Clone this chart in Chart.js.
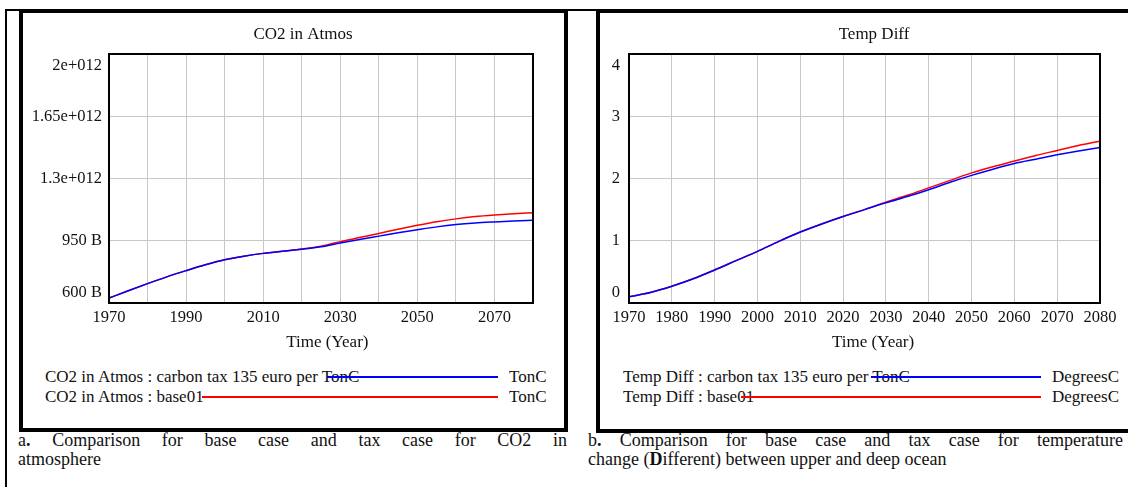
<!DOCTYPE html>
<html><head><meta charset="utf-8">
<script src="https://cdn.jsdelivr.net/npm/chart.js@4.4.1/dist/chart.umd.min.js"></script>
<style>
html,body{margin:0;padding:0;background:#fff;}
body{width:1128px;height:487px;overflow:hidden;position:relative;font-family:"Liberation Serif","Times New Roman",serif;color:#111;}
.ln{position:absolute;background:#000;}
.frame{position:absolute;border:4px solid #000;box-sizing:border-box;}
canvas{position:absolute;}
.lg{position:absolute;font-size:17px;line-height:20px;white-space:nowrap;}
.sw{position:absolute;height:2px;}
.cap{position:absolute;font-size:18px;line-height:18.5px;}
.cap div{height:18.5px;}
.cap .j{text-align:justify;text-align-last:justify;}
</style>
</head><body>
<div class="ln" style="left:5px;top:9px;width:1123px;height:2px"></div>
<div class="ln" style="left:5px;top:9px;width:2px;height:478px"></div>
<div class="frame" style="left:19px;top:9px;width:549px;height:423px"></div>
<div class="frame" style="left:596px;top:9px;width:544px;height:424px"></div>
<canvas id="c1" width="560" height="340" style="left:23px;top:13px"></canvas>
<canvas id="c2" width="548" height="340" style="left:600px;top:13px"></canvas>

<div class="lg" id="l1t" style="left:45px;top:367px"></div>
<div class="sw" id="l1s" style="left:327px;top:376px;width:171px"></div>
<div class="lg" id="l1u" style="left:509px;top:367px"></div>
<div class="lg" id="l2t" style="left:45px;top:387px"></div>
<div class="sw" id="l2s" style="left:202px;top:396px;width:296px"></div>
<div class="lg" id="l2u" style="left:509px;top:387px"></div>

<div class="lg" id="r1t" style="left:623px;top:367px"></div>
<div class="sw" id="r1s" style="left:871px;top:376px;width:170px"></div>
<div class="lg" id="r1u" style="left:1052px;top:367px"></div>
<div class="lg" id="r2t" style="left:623px;top:387px"></div>
<div class="sw" id="r2s" style="left:741px;top:396px;width:300px"></div>
<div class="lg" id="r2u" style="left:1052px;top:387px"></div>

<div class="cap" style="left:18px;top:431px;width:549px">
  <div class="j">a<b>.</b> Comparison for base case and tax case for CO2 in</div>
  <div>atmosphere</div>
</div>
<div class="cap" style="left:588px;top:431px;width:535px">
  <div class="j">b<b>.</b> Comparison for base case and tax case for temperature</div>
  <div>change (<b>D</b>ifferent) between upper and deep ocean</div>
</div>

<script>
// ---- data ----
const years = [1970,1975,1980,1985,1990,1995,2000,2005,2010,2015,2020,2025,2030,2035,2040,2045,2050,2055,2060,2065,2070,2075,2080];
// CO2 in Atmos (billion TonC)
const co2Tax  = [628,669,709,747,782,815,843,863,879,891,902,916,937,957,976,995,1012,1028,1041,1050,1056,1061,1065];
const co2Base = [628,669,709,747,782,815,843,863,879,891,903,919,945,968,991,1015,1037,1057,1073,1086,1095,1102,1108];
// Temp Diff (DegreesC)
const tempTax  = [0.10,0.17,0.27,0.39,0.53,0.68,0.83,0.99,1.14,1.27,1.39,1.50,1.61,1.71,1.82,1.94,2.05,2.15,2.24,2.31,2.38,2.44,2.50];
const tempBase = [0.10,0.17,0.27,0.39,0.53,0.68,0.83,0.99,1.14,1.27,1.39,1.50,1.62,1.73,1.85,1.97,2.09,2.19,2.28,2.37,2.45,2.53,2.60];
// tick labels
const co2YTicks  = ['600 B','950 B','1.3e+012','1.65e+012','2e+012'];
const tempYTicks = ['0','1','2','3','4'];
const xTicksLeft  = ['1970','','1990','','2010','','2030','','2050','','2070',''];
const xTicksRight = ['1970','1980','1990','2000','2010','2020','2030','2040','2050','2060','2070','2080'];
// names
const co2Title = 'CO2 in Atmos', tempTitle = 'Temp Diff';
const co2Series = ['CO2 in Atmos : carbon tax 135 euro per TonC','CO2 in Atmos : base01'];
const tempSeries = ['Temp Diff : carbon tax 135 euro per TonC','Temp Diff : base01'];
const co2Unit = 'TonC', tempUnit = 'DegreesC';
const xTitle = 'Time (Year)';

const BLUE = '#0000ff', RED = '#ff0000';
const FF = '"Liberation Serif","Times New Roman",serif';
const TXT = '#111';

const pts = (xs, ys) => xs.map((x, i) => ({x: x, y: ys[i]}));

const framePlugin = {
  id: 'plotFrame',
  afterDraw(chart) {
    const {ctx, chartArea: a} = chart;
    ctx.save();
    ctx.strokeStyle = '#000';
    ctx.lineWidth = 2;
    ctx.strokeRect(a.left, a.top, a.right - a.left, a.bottom - a.top);
    ctx.restore();
  }
};

function yLabel(arr) {
  return (v, i) => {
    const n = arr.length - 1;
    if (i === n) return ['', arr[i]];
    if (i === 0) return [arr[i], ''];
    return arr[i];
  };
}
function yFont(n) {
  return (ctx) => ({family: FF, size: 16.5,
    lineHeight: ctx.index === n ? '24px' : (ctx.index === 0 ? '21px' : '20px')});
}

function makeChart(id, o) {
  const scales = {
    x: {
      type: 'linear', position: 'bottom', min: 1970, max: 2080,
      ticks: {stepSize: 10, autoSkip: false, maxRotation: 0, minRotation: 0, padding: 5, color: TXT,
        font: {family: FF, size: 16.5, lineHeight: '20px'},
        callback: (v, i) => o.xTicks[i]},
      grid: {color: '#c8c8c8', lineWidth: 1, drawTicks: false},
      border: {display: false},
      title: {display: true, text: o.xTitleText, color: TXT,
        font: {family: FF, size: 17, lineHeight: '20px'}, padding: {top: 0, bottom: 0}}
    },
    y: {
      type: 'linear', position: 'left', min: o.yMin, max: o.yMax,
      ticks: {stepSize: o.yStep, padding: o.yPad, color: TXT,
        font: yFont(o.yTicks.length - 1), callback: yLabel(o.yTicks)},
      grid: {color: '#c8c8c8', lineWidth: 1, drawTicks: false},
      border: {display: false},
      afterFit(s) { s.width = o.yWidth; }
    }
  };
  if (o.rightSpace) {
    scales.y2 = {
      type: 'linear', position: 'right', display: true,
      ticks: {display: false}, grid: {display: false, drawTicks: false}, border: {display: false},
      afterFit(s) { s.width = o.rightSpace; }
    };
  }
  return new Chart(document.getElementById(id), {
    type: 'line',
    data: {datasets: [
      {label: o.series[0], data: pts(years, o.tax), borderColor: BLUE, borderWidth: 1.5,
        pointRadius: 0, fill: false, cubicInterpolationMode: 'monotone'},
      {label: o.series[1], data: pts(years, o.base), borderColor: RED, borderWidth: 1.5,
        pointRadius: 0, fill: false, cubicInterpolationMode: 'monotone'}
    ]},
    options: {
      responsive: false, animation: false, events: [],
      layout: {autoPadding: false, padding: o.padding},
      plugins: {
        legend: {display: false}, tooltip: {enabled: false},
        title: {display: true, text: o.title, color: TXT,
          font: {family: FF, size: 17, weight: 'normal', lineHeight: '20px'},
          padding: {top: 12, bottom: 9}}
      },
      scales: scales
    },
    plugins: [framePlugin]
  });
}

makeChart('c1', {
  title: co2Title, series: co2Series, tax: co2Tax, base: co2Base,
  xTicks: xTicksLeft, xTitleText: '   ' + xTitle,
  yMin: 600, yMax: 2000, yStep: 350, yTicks: co2YTicks, yPad: 7, yWidth: 86,
  padding: {left: 0, right: 0, top: 0, bottom: 0}, rightSpace: 50
});
makeChart('c2', {
  title: tempTitle, series: tempSeries, tax: tempTax, base: tempBase,
  xTicks: xTicksRight, xTitleText: '    ' + xTitle,
  yMin: 0, yMax: 4, yStep: 1, yTicks: tempYTicks, yPad: 9, yWidth: 29,
  padding: {left: 0, right: 0, top: 0, bottom: 0}, rightSpace: 48
});

// legends (HTML text, colours shared with datasets)
function setLegend(p, series, unit) {
  document.getElementById(p + '1t').textContent = series[0];
  document.getElementById(p + '2t').textContent = series[1];
  document.getElementById(p + '1u').textContent = unit;
  document.getElementById(p + '2u').textContent = unit;
  document.getElementById(p + '1s').style.background = BLUE;
  document.getElementById(p + '2s').style.background = RED;
}
setLegend('l', co2Series, co2Unit);
setLegend('r', tempSeries, tempUnit);
</script>
</body></html>
